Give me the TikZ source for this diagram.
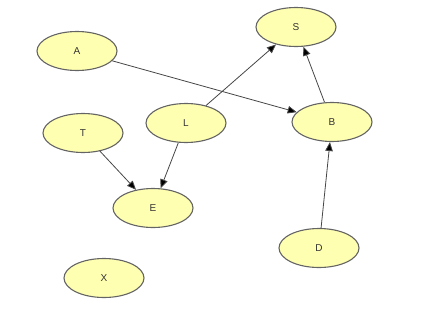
\documentclass[tikz,border=0pt]{standalone}
\usepackage{fontspec}
\setmainfont{Liberation Sans}
\usetikzlibrary{shapes.geometric,arrows.meta}
\definecolor{nodefill}{RGB}{255,255,178}
\definecolor{nodeline}{RGB}{100,100,100}
\definecolor{edgeline}{RGB}{70,70,70}
\begin{document}
\begin{tikzpicture}[x=1pt,y=-1pt,
  vnode/.style={ellipse,draw=nodeline,line width=1.1pt,fill=nodefill,minimum width=80pt,minimum height=39pt,inner sep=0pt,text=black!80,font=\fontsize{10}{11}\selectfont},
  edge/.style={draw=edgeline,line width=0.8pt,-{Triangle[length=9pt,width=7.5pt,fill=black]}}]
\useasboundingbox (0,0) rectangle (438,316);
\node[vnode] (A) at (77,51) {A};
\node[vnode] (S) at (296,27) {S};
\node[vnode] (B) at (332,122) {B};
\node[vnode] (L) at (186,123) {L};
\node[vnode] (T) at (83,133) {T};
\node[vnode] (E) at (153,208) {E};
\node[vnode] (D) at (319,248) {D};
\node[vnode] (X) at (104,278) {X};
\draw[edge] (A) -- (B);
\draw[edge] (L) -- (S);
\draw[edge] (B) -- (S);
\draw[edge] (T) -- (E);
\draw[edge] (L) -- (E);
\draw[edge] (D) -- (B);
\end{tikzpicture}
\end{document}
